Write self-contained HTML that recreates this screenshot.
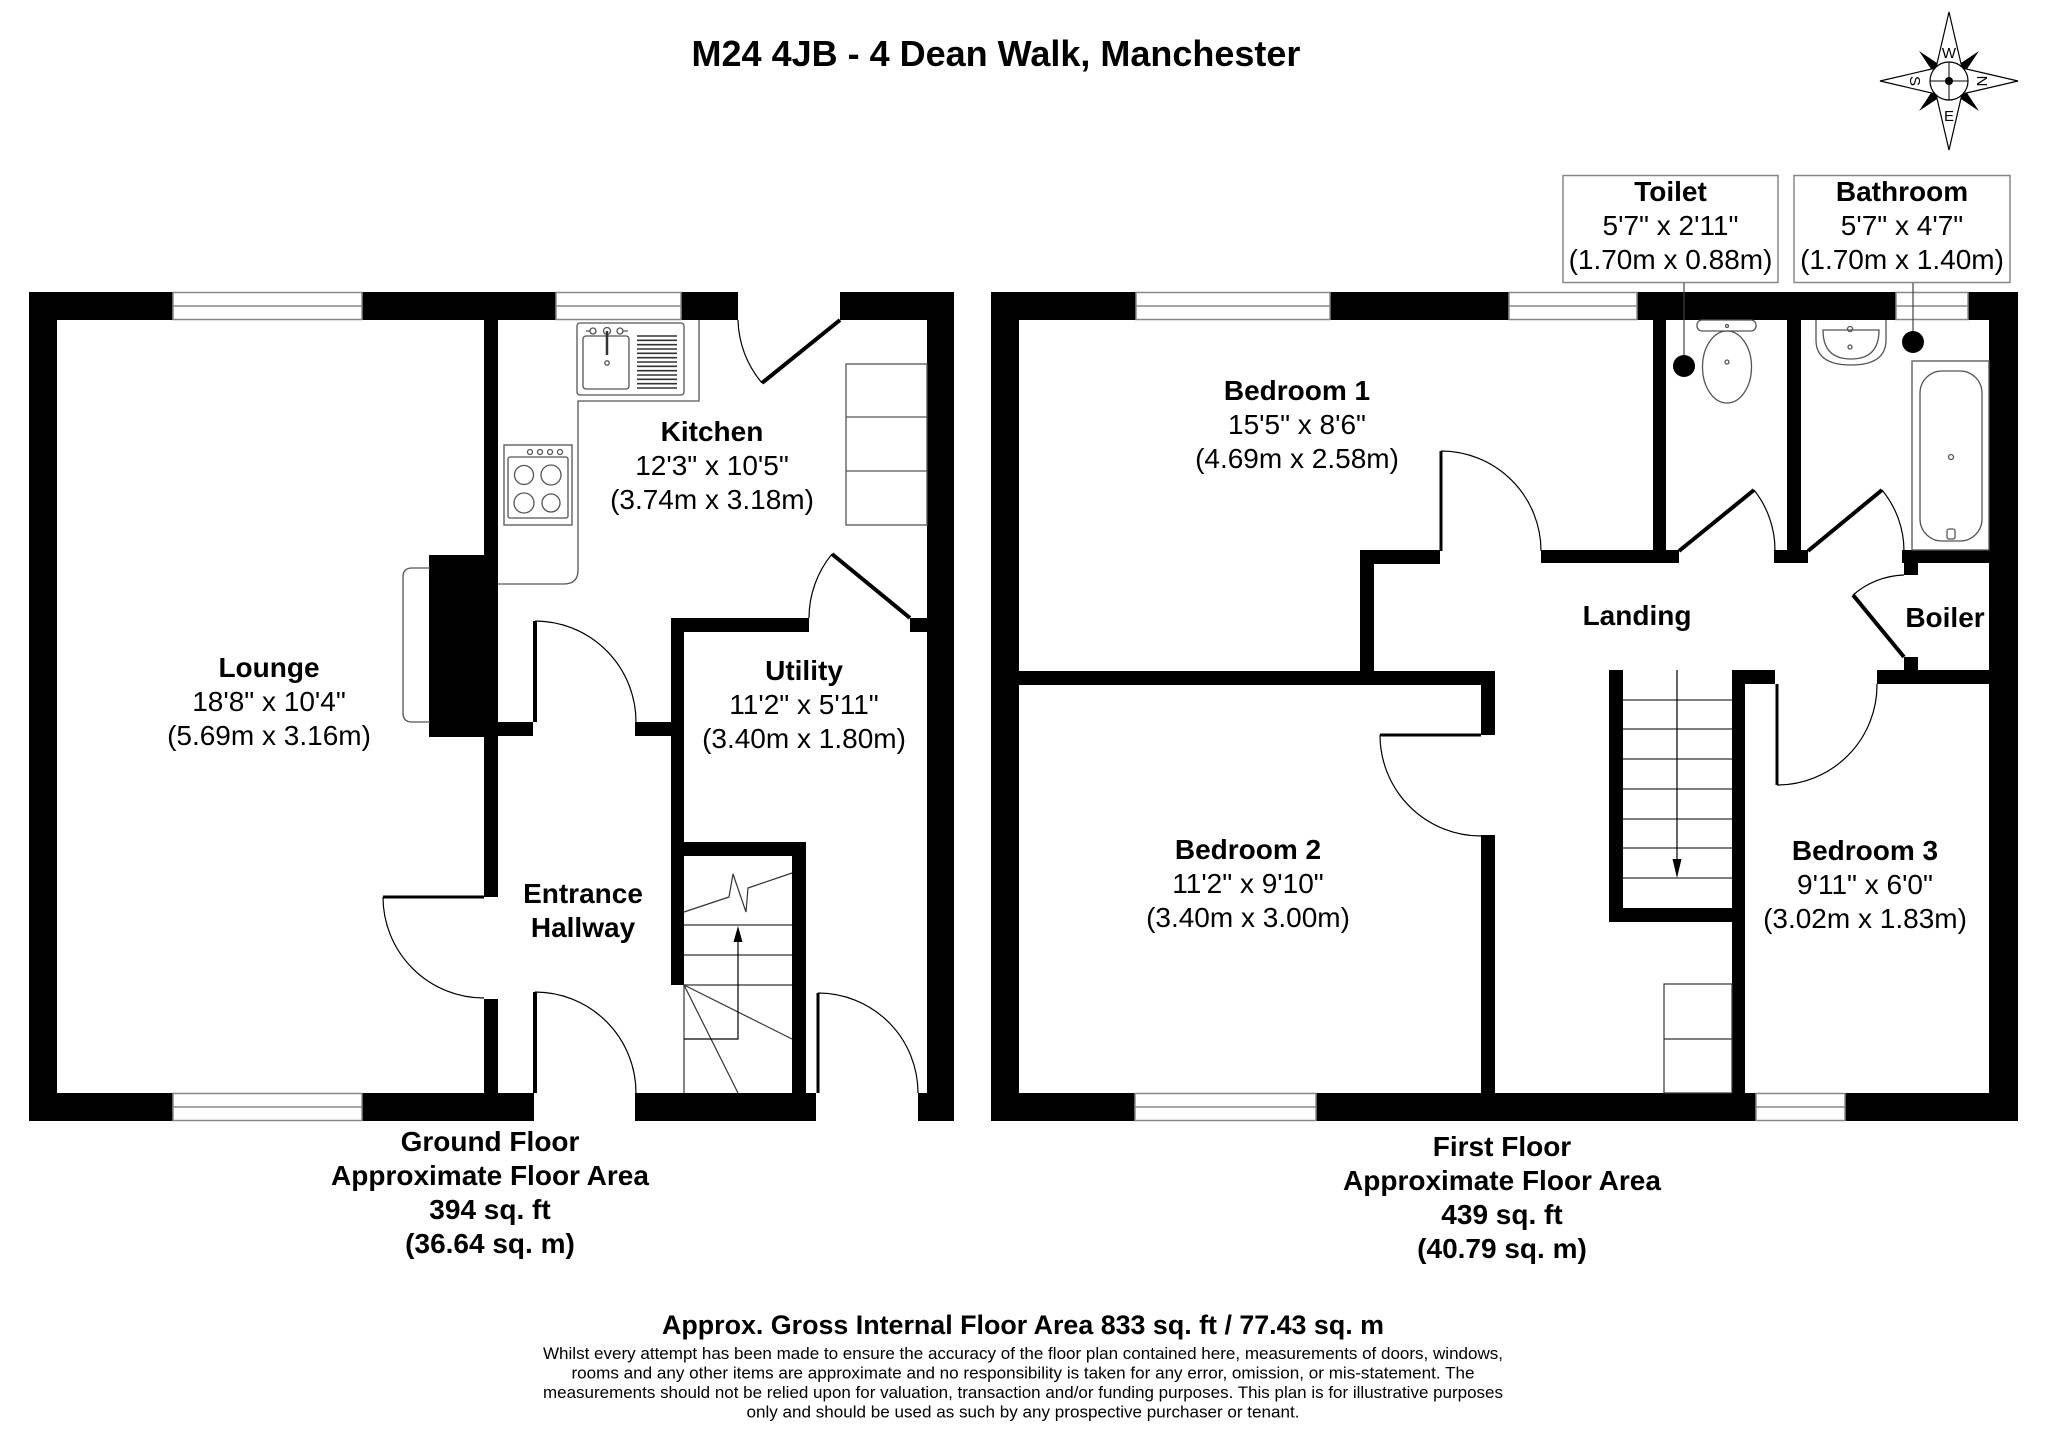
<!DOCTYPE html>
<html><head><meta charset="utf-8"><style>html,body{margin:0;padding:0;background:#fff}svg{display:block}</style></head>
<body>
<svg width="2048" height="1447" viewBox="0 0 2048 1447" xmlns="http://www.w3.org/2000/svg" font-family="'Liberation Sans', Arial, sans-serif">
<rect width="2048" height="1447" fill="#fff"/>

<!-- Title -->
<text x="996" y="66" font-size="36" font-weight="bold" text-anchor="middle">M24 4JB - 4 Dean Walk, Manchester</text>

<!-- Compass -->
<g>
  <polygon points="1979,51 1959,81 1979,111 1949,91 1919,111 1939,81 1919,51 1949,71" fill="#000"/>
  <polygon points="1949,12 1962,68 2018,81 1962,94 1949,150 1936,94 1880,81 1936,68" fill="#fff" stroke="#000" stroke-width="1.2"/>
  <circle cx="1949" cy="81" r="19" fill="#fff" stroke="#000" stroke-width="1.2"/>
  <path d="M1930 81 H1968 M1949 62 V100" stroke="#000" stroke-width="1"/>
  <circle cx="1949" cy="81" r="4" fill="#000"/>
  <text x="1949" y="58" font-size="15" text-anchor="middle">W</text>
  <text x="1949" y="121" font-size="15" text-anchor="middle">E</text>
  <text x="0" y="0" font-size="15" text-anchor="middle" transform="translate(1910,81) rotate(90)">S</text>
  <text x="0" y="0" font-size="15" text-anchor="middle" transform="translate(1977,81) rotate(90)">N</text>
</g>

<!-- ============ GROUND FLOOR ============ -->
<g fill="#000">
  <rect x="29" y="292" width="28" height="829"/>
  <rect x="29" y="292" width="144" height="28"/>
  <rect x="362" y="292" width="194" height="28"/>
  <rect x="681" y="292" width="57" height="28"/>
  <rect x="840" y="292" width="114" height="28"/>
  <rect x="927" y="292" width="27" height="829"/>
  <rect x="29" y="1093" width="144" height="28"/>
  <rect x="362" y="1093" width="172" height="28"/>
  <rect x="635" y="1093" width="181" height="28"/>
  <rect x="918" y="1093" width="36" height="28"/>
  <rect x="484" y="292" width="14" height="605"/>
  <rect x="484" y="999" width="14" height="94"/>
  <rect x="429" y="555" width="55" height="182"/>
  <rect x="498" y="722" width="35" height="14"/>
  <rect x="635" y="722" width="36" height="14"/>
  <rect x="671" y="618" width="13" height="367"/>
  <rect x="671" y="618" width="138" height="14"/>
  <rect x="910" y="618" width="17" height="14"/>
  <rect x="684" y="842" width="122" height="14"/>
  <rect x="792" y="842" width="14" height="251"/>
</g>
<!-- Ground windows -->
<g fill="#fff" stroke="#888" stroke-width="1.5">
  <rect x="173" y="292.5" width="189" height="27"/>
  <line x1="173" y1="306" x2="362" y2="306"/>
  <rect x="556" y="292.5" width="125" height="27"/>
  <line x1="556" y1="306" x2="681" y2="306"/>
  <rect x="173" y="1093.5" width="189" height="27"/>
  <line x1="173" y1="1107" x2="362" y2="1107"/>
</g>

<!-- Ground doors -->
<g fill="none" stroke="#000">
  <path d="M383 897 H484" stroke-width="3"/>
  <path d="M383 897 A101 101 0 0 0 484 998" stroke-width="1.2"/>
  <path d="M535 722 V621" stroke-width="4"/>
  <path d="M535 621 A101 101 0 0 1 636 722" stroke-width="1.2"/>
  <path d="M535 1093 V992" stroke-width="4"/>
  <path d="M535 992 A101 101 0 0 1 636 1093" stroke-width="1.2"/>
  <path d="M818 1093 V993" stroke-width="3"/>
  <path d="M818 993 A100 100 0 0 1 918 1093" stroke-width="1.2"/>
  <path d="M840 320 L762 383" stroke-width="4"/>
  <path d="M738 320 A101 101 0 0 0 762 383" stroke-width="1.2"/>
  <path d="M910 618 L832 554" stroke-width="4"/>
  <path d="M832 554 A101 101 0 0 0 809 618" stroke-width="1.2"/>
</g>

<!-- Kitchen fixtures -->
<g fill="none" stroke="#555" stroke-width="1.3">
  <path d="M699 320 V401 H578 V570 Q578 584 564 584 H498"/>
  <rect x="577" y="323" width="107" height="72" rx="3"/>
  <rect x="583" y="336" width="46" height="53" rx="3"/>
  <circle cx="593" cy="331" r="3"/>
  <circle cx="607" cy="331" r="3.5"/>
  <circle cx="620" cy="331" r="3"/>
  <path d="M586 331 H590 M623 331 H628"/>
  <circle cx="607" cy="363" r="2.2"/>
  <rect x="504" y="445" width="68" height="80"/>
  <rect x="508" y="457" width="60" height="61" rx="2"/>
  <circle cx="530" cy="452" r="2.5"/>
  <circle cx="540" cy="452" r="2.5"/>
  <circle cx="550" cy="452" r="2.5"/>
  <circle cx="560" cy="452" r="2.5"/>
  <circle cx="524" cy="475" r="9.5"/>
  <circle cx="551" cy="475" r="10"/>
  <circle cx="524" cy="503" r="10"/>
  <circle cx="551" cy="503" r="9"/>
  <rect x="846" y="364" width="81" height="161"/>
  <path d="M846 417 H927 M846 471 H927"/>
  <path d="M430 568 H412 Q403 568 403 577 V713 Q403 722 412 722 H430"/>
</g>
<path d="M607 331 V355" stroke="#333" stroke-width="2.5"/>
<g stroke="#333" stroke-width="1.6">
  <line x1="637" y1="336" x2="677" y2="336"/>
  <line x1="637" y1="340.3" x2="677" y2="340.3"/>
  <line x1="637" y1="344.7" x2="677" y2="344.7"/>
  <line x1="637" y1="349" x2="677" y2="349"/>
  <line x1="637" y1="353.3" x2="677" y2="353.3"/>
  <line x1="637" y1="357.7" x2="677" y2="357.7"/>
  <line x1="637" y1="362" x2="677" y2="362"/>
  <line x1="637" y1="366.3" x2="677" y2="366.3"/>
  <line x1="637" y1="370.7" x2="677" y2="370.7"/>
  <line x1="637" y1="375" x2="677" y2="375"/>
  <line x1="637" y1="379.3" x2="677" y2="379.3"/>
  <line x1="637" y1="383.7" x2="677" y2="383.7"/>
  <line x1="637" y1="388" x2="677" y2="388"/>
</g>

<!-- Ground stairs -->
<g fill="none" stroke="#333" stroke-width="1.2">
  <path d="M684 985 V1093"/>
  <path d="M684 925 H792 M684 955 H792 M684 985 H792"/>
  <path d="M684 985 L792 1039 M684 985 L738 1093"/>
  <path d="M684 912 L729 897 L733 874 L746 912 L748 888 L792 873"/>
  <path d="M684 1039 H738 V940" stroke="#000"/>
</g>
<polygon points="738,926 733.5,942 742.5,942" fill="#000"/>

<!-- Ground labels -->
<g font-size="28" text-anchor="middle">
  <text x="269" y="677" font-weight="bold">Lounge</text>
  <text x="269" y="711">18'8" x 10'4"</text>
  <text x="269" y="745">(5.69m x 3.16m)</text>
  <text x="712" y="441" font-weight="bold">Kitchen</text>
  <text x="712" y="475">12'3" x 10'5"</text>
  <text x="712" y="509">(3.74m x 3.18m)</text>
  <text x="804" y="680" font-weight="bold">Utility</text>
  <text x="804" y="714">11'2" x 5'11"</text>
  <text x="804" y="748">(3.40m x 1.80m)</text>
  <text x="583" y="903" font-weight="bold">Entrance</text>
  <text x="583" y="937" font-weight="bold">Hallway</text>
  <text x="490" y="1151" font-weight="bold">Ground Floor</text>
  <text x="490" y="1185" font-weight="bold">Approximate Floor Area</text>
  <text x="490" y="1219" font-weight="bold">394 sq. ft</text>
  <text x="490" y="1253" font-weight="bold">(36.64 sq. m)</text>
</g>

<!-- ============ FIRST FLOOR ============ -->
<g fill="#000">
  <rect x="991" y="292" width="28" height="829"/>
  <rect x="991" y="292" width="145" height="28"/>
  <rect x="1330" y="292" width="179" height="28"/>
  <rect x="1637" y="292" width="259" height="28"/>
  <rect x="1968" y="292" width="50" height="28"/>
  <rect x="1989" y="292" width="29" height="829"/>
  <rect x="991" y="1093" width="144" height="28"/>
  <rect x="1316" y="1093" width="440" height="28"/>
  <rect x="1845" y="1093" width="173" height="28"/>
  <rect x="1019" y="671" width="476" height="14"/>
  <rect x="1481" y="671" width="14" height="64"/>
  <rect x="1481" y="835" width="14" height="258"/>
  <rect x="1360" y="551" width="14" height="120"/>
  <rect x="1360" y="550" width="80" height="14"/>
  <rect x="1541" y="550" width="138" height="13"/>
  <rect x="1653" y="320" width="13" height="243"/>
  <rect x="1774" y="550" width="34" height="13"/>
  <rect x="1787" y="320" width="14" height="243"/>
  <rect x="1902" y="550" width="88" height="13"/>
  <rect x="1904" y="563" width="14" height="12"/>
  <rect x="1904" y="657" width="14" height="14"/>
  <rect x="1732" y="670" width="43" height="14"/>
  <rect x="1877" y="670" width="113" height="14"/>
  <rect x="1732" y="670" width="13" height="423"/>
  <rect x="1609" y="670" width="14" height="252"/>
  <rect x="1609" y="908" width="124" height="14"/>
</g>
<!-- First windows -->
<g fill="#fff" stroke="#888" stroke-width="1.5">
  <rect x="1136" y="292.5" width="194" height="27"/>
  <line x1="1136" y1="306" x2="1330" y2="306"/>
  <rect x="1509" y="292.5" width="128" height="27"/>
  <line x1="1509" y1="306" x2="1637" y2="306"/>
  <rect x="1896" y="292.5" width="72" height="27"/>
  <line x1="1896" y1="306" x2="1968" y2="306"/>
  <rect x="1135" y="1093.5" width="181" height="27"/>
  <line x1="1135" y1="1107" x2="1316" y2="1107"/>
  <rect x="1756" y="1093.5" width="89" height="27"/>
  <line x1="1756" y1="1107" x2="1845" y2="1107"/>
</g>

<!-- First doors -->
<g fill="none" stroke="#000">
  <path d="M1441 551 V451" stroke-width="3"/>
  <path d="M1441 451 A100 100 0 0 1 1541 551" stroke-width="1.2"/>
  <path d="M1481 735 H1380" stroke-width="3"/>
  <path d="M1380 735 A101 101 0 0 0 1481 836" stroke-width="1.2"/>
  <path d="M1679 551 L1754 490" stroke-width="4"/>
  <path d="M1754 490 A96.5 96.5 0 0 1 1775 551" stroke-width="1.2"/>
  <path d="M1808 551 L1882 490" stroke-width="4"/>
  <path d="M1882 490 A96 96 0 0 1 1904 551" stroke-width="1.2"/>
  <path d="M1904 657 L1853 595" stroke-width="4"/>
  <path d="M1853 595 A81 81 0 0 1 1904 575" stroke-width="1.2"/>
  <path d="M1777 684 V785" stroke-width="3"/>
  <path d="M1777 785 A100 100 0 0 0 1877 684" stroke-width="1.2"/>
</g>

<!-- First stairs -->
<g fill="none" stroke="#333" stroke-width="1.2">
  <path d="M1623 700 H1732 M1623 729 H1732 M1623 759 H1732 M1623 789 H1732 M1623 819 H1732 M1623 848 H1732 M1623 878 H1732"/>
  <path d="M1677 670 V862" stroke="#000"/>
  <rect x="1664" y="984" width="68" height="109"/>
  <path d="M1664 1039 H1732"/>
</g>
<polygon points="1677,878 1672.5,859 1681.5,859" fill="#000"/>

<!-- Bathroom / toilet fixtures -->
<g fill="none" stroke="#555" stroke-width="1.3">
  <path d="M1816 320 V340 Q1816 365 1851 365 Q1886 365 1886 340 V320"/>
  <path d="M1823 330 H1879 Q1879 359 1851 359 Q1823 359 1823 330 Z"/>
  <circle cx="1850" cy="329" r="2.5"/>
  <circle cx="1850" cy="347" r="2"/>
  <rect x="1912" y="361" width="77" height="189"/>
  <rect x="1920" y="371" width="62" height="170" rx="22"/>
  <circle cx="1951" cy="457" r="2.5"/>
  <rect x="1947" y="529" width="8" height="10" rx="2"/>
  <rect x="1697" y="320" width="59" height="11" rx="5"/>
  <ellipse cx="1727" cy="367" rx="24.5" ry="36"/>
  <circle cx="1727" cy="326" r="1.5"/>
  <circle cx="1727" cy="362" r="2"/>
</g>

<!-- Label boxes and pointers -->
<g fill="#fff" stroke="#888" stroke-width="1.5">
  <rect x="1563" y="175.5" width="215" height="107"/>
  <rect x="1794" y="175.5" width="216" height="107"/>
</g>
<g stroke="#444" stroke-width="1.2">
  <line x1="1684" y1="283" x2="1684" y2="366"/>
  <line x1="1913" y1="283" x2="1913" y2="342"/>
</g>
<circle cx="1684" cy="366" r="11" fill="#000"/>
<circle cx="1913" cy="342" r="11" fill="#000"/>

<!-- First labels -->
<g font-size="28" text-anchor="middle">
  <text x="1670.5" y="201" font-weight="bold">Toilet</text>
  <text x="1670.5" y="235">5'7" x 2'11"</text>
  <text x="1670.5" y="269">(1.70m x 0.88m)</text>
  <text x="1902" y="201" font-weight="bold">Bathroom</text>
  <text x="1902" y="235">5'7" x 4'7"</text>
  <text x="1902" y="269">(1.70m x 1.40m)</text>
  <text x="1297" y="400" font-weight="bold">Bedroom 1</text>
  <text x="1297" y="434">15'5" x 8'6"</text>
  <text x="1297" y="468">(4.69m x 2.58m)</text>
  <text x="1248" y="859" font-weight="bold">Bedroom 2</text>
  <text x="1248" y="893">11'2" x 9'10"</text>
  <text x="1248" y="927">(3.40m x 3.00m)</text>
  <text x="1637" y="625" font-weight="bold">Landing</text>
  <text x="1945" y="627" font-weight="bold">Boiler</text>
  <text x="1865" y="860" font-weight="bold">Bedroom 3</text>
  <text x="1865" y="894">9'11" x 6'0"</text>
  <text x="1865" y="928">(3.02m x 1.83m)</text>
  <text x="1502" y="1156" font-weight="bold">First Floor</text>
  <text x="1502" y="1190" font-weight="bold">Approximate Floor Area</text>
  <text x="1502" y="1224" font-weight="bold">439 sq. ft</text>
  <text x="1502" y="1258" font-weight="bold">(40.79 sq. m)</text>
</g>

<!-- Footer -->
<text x="1023" y="1334" font-size="27" font-weight="bold" text-anchor="middle" textLength="722" lengthAdjust="spacingAndGlyphs">Approx. Gross Internal Floor Area 833 sq. ft / 77.43 sq. m</text>
<g font-size="17" text-anchor="middle">
  <text x="1023" y="1359" textLength="960" lengthAdjust="spacingAndGlyphs">Whilst every attempt has been made to ensure the accuracy of the floor plan contained here, measurements of doors, windows,</text>
  <text x="1023" y="1378.5" textLength="903" lengthAdjust="spacingAndGlyphs">rooms and any other items are approximate and no responsibility is taken for any error, omission, or mis-statement. The</text>
  <text x="1023" y="1398" textLength="960" lengthAdjust="spacingAndGlyphs">measurements should not be relied upon for valuation, transaction and/or funding purposes. This plan is for illustrative purposes</text>
  <text x="1023" y="1417.5" textLength="553" lengthAdjust="spacingAndGlyphs">only and should be used as such by any prospective purchaser or tenant.</text>
</g>
</svg>
</body></html>
